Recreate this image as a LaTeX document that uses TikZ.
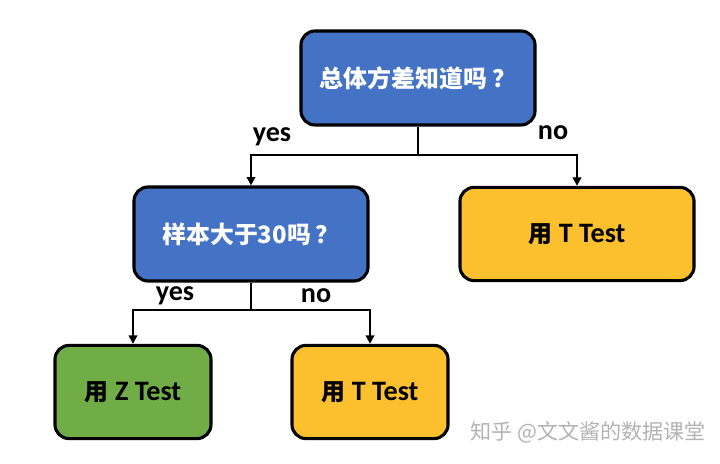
\documentclass[tikz,border=0pt]{standalone}
\usepackage{fontspec}
\setmainfont{Carlito}
\newfontfamily\cjk{Noto Sans CJK SC}
\newcommand{\zh}[1]{{\fontsize{17}{20}\selectfont\cjk\bfseries #1}}
\usetikzlibrary{arrows.meta}
\definecolor{qblue}{RGB}{68,114,196}
\definecolor{tgold}{RGB}{252,191,45}
\definecolor{zgreen}{RGB}{112,173,71}
\begin{document}
\begin{tikzpicture}[x=0.025cm, y=-0.025cm,
  every node/.style={font=\fontsize{20}{24}\selectfont\bfseries},
  decision/.style={draw=black, line width=2.2pt, rounded corners=10pt, text=white,
    minimum width=5.85cm, minimum height=2.35cm},
  result/.style={draw=black, line width=2.2pt, rounded corners=10pt, text=black,
    minimum width=3.9cm, minimum height=2.33cm},
  link/.style={line width=1.5pt, -{Triangle[width=6pt,length=6pt]}}]
  \useasboundingbox (0,0) rectangle (720,464);
  % questions
  \node[decision, fill=qblue] (known) at (418,78) {\zh{总体方差知道吗\hspace{0.2em}？}};
  \node[decision, fill=qblue] (size) at (251,234) {\zh{样本大于30吗\hspace{0.2em}？}};
  % answers
  \node[result, fill=tgold, minimum width=5.85cm] (tfirst) at (577,234) {\zh{用} T Test};
  \node[result, fill=zgreen] (ztest) at (133,392) {\zh{用} Z Test};
  \node[result, fill=tgold] (tsecond) at (370,392) {\zh{用} T Test};
  % branches from the first question
  \coordinate (split1) at (418,155);
  \draw[line width=1.5pt] (known.south) -- (split1);
  \draw[link] (split1) -| (size.north);
  \draw[link] (split1) -| (tfirst.north);
  \node (yes1) at (272,137) {yes};
  \node (no1) at (553,133) {no};
  % branches from the second question
  \coordinate (split2) at (251,310);
  \draw[line width=1.5pt] (size.south) -- (split2);
  \draw[link] (split2) -| (ztest.north);
  \draw[link] (split2) -| (tsecond.north);
  \node (yes2) at (175,296) {yes};
  \node (no2) at (316,296) {no};
  % watermark
  \node[font=\fontsize{15}{18}\selectfont, text=black!30] (mark) at (588,432) {\cjk 知乎 @文文酱的数据课堂};
\end{tikzpicture}
\end{document}
